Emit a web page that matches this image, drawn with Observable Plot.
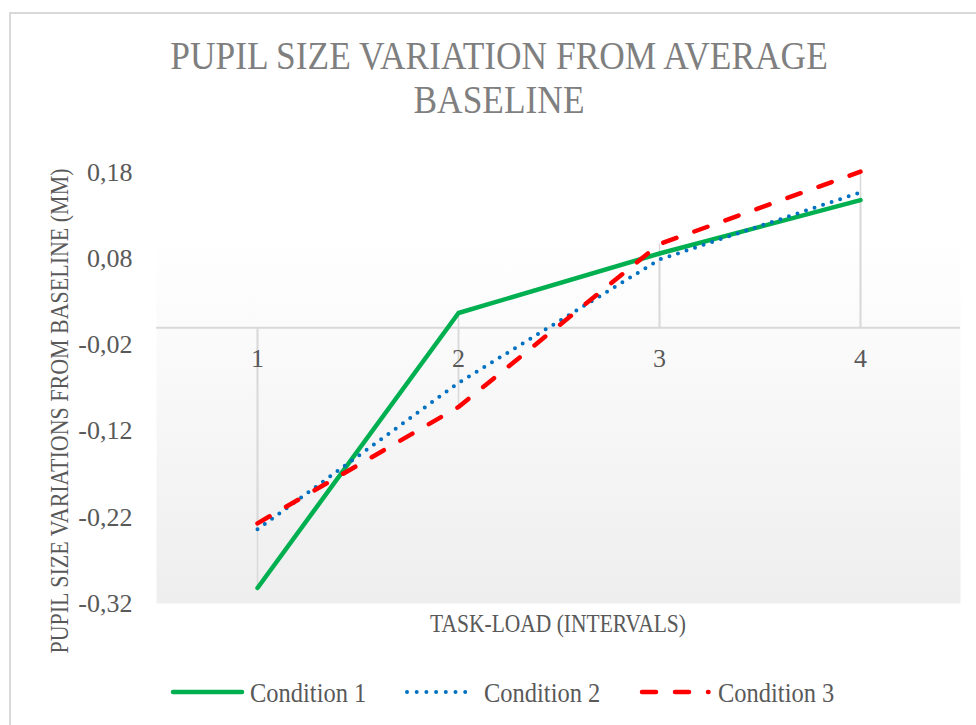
<!DOCTYPE html>
<html>
<head>
<meta charset="utf-8">
<script src="https://cdn.jsdelivr.net/npm/d3@7"></script>
<script src="https://cdn.jsdelivr.net/npm/@observablehq/plot@0.6"></script>
<style>
  html, body { margin: 0; padding: 0; background: #ffffff; }
  #wrap { position: relative; width: 976px; height: 725px; overflow: hidden; font-family: "Liberation Serif", serif; }
  #chart, #overlay { position: absolute; left: 0; top: 0; }
  #border { position: absolute; left: 9px; top: 12px; width: 1100px; height: 900px; border: 2px solid #d9d9d9; box-sizing: border-box; pointer-events: none; }
</style>
</head>
<body>
<div id="wrap">
  <div id="chart"></div>
  <svg id="overlay" width="976" height="725" xmlns="http://www.w3.org/2000/svg"></svg>
  <div id="border"></div>
</div>
<script>
// ---- data ----
const categories = [1, 2, 3, 4];
const xTickLabels = ["1", "2", "3", "4"];
const seriesNames = ["Condition 1", "Condition 2", "Condition 3"];
const condition1 = [-0.302, 0.017, 0.086, 0.148];
const condition2 = [-0.234, -0.064, 0.079, 0.157];
const condition3 = [-0.227, -0.092, 0.097, 0.181];
const yTicks = [-0.32, -0.22, -0.12, -0.02, 0.08, 0.18];
const yTickLabels = ["-0,32", "-0,22", "-0,12", "-0,02", "0,08", "0,18"];
const titleLines = ["PUPIL SIZE VARIATION FROM AVERAGE", "BASELINE"];
const xTitle = "TASK-LOAD (INTERVALS)";
const yTitle = "PUPIL SIZE VARIATIONS FROM BASELINE (MM)";

// ---- build tables ----
const seriesValues = [condition1, condition2, condition3];
const tables = seriesValues.map((vals, s) => categories.map((c, i) => ({x: c, y: vals[i], series: seriesNames[s]})));
const allPoints = tables.flat();

const styles = [
  {stroke: "#00b050", strokeWidth: 4.5, strokeDasharray: null, strokeLinecap: "round"},
  {stroke: "#0070c0", strokeWidth: 4, strokeDasharray: "0 9", strokeLinecap: "round"},
  {stroke: "#ff0000", strokeWidth: 4.5, strokeDasharray: "14 19", strokeLinecap: "round"}
];

const chart = Plot.plot({
  width: 976,
  height: 725,
  marginLeft: 156,
  marginRight: 16,
  marginTop: 172,
  marginBottom: 122,
  style: {fontFamily: "'Liberation Serif', serif", fontSize: "26px", color: "#595959", background: "transparent", overflow: "visible"},
  x: {type: "point", domain: categories, padding: 0.5, axis: null},
  y: {domain: [-0.32, 0.18], axis: null},
  marks: [
    Plot.frame({fill: "url(#plotbg)", stroke: "none"}),
    Plot.ruleY([0], {stroke: "#d9d9d9", strokeWidth: 2}),
    Plot.ruleX(allPoints, {x: "x", y1: 0, y2: "y", stroke: "#d9d9d9", strokeWidth: 1.5}),
    Plot.axisY({
      ticks: yTicks,
      tickFormat: d => yTickLabels[yTicks.indexOf(d)],
      tickSize: 0,
      tickPadding: 24,
      fontSize: 26,
      fill: "#595959",
      label: null
    }),
    Plot.text(categories, {
      x: d => d,
      y: () => 0,
      dy: 31,
      text: d => xTickLabels[categories.indexOf(d)],
      fontSize: 26,
      fill: "#595959"
    }),
    ...tables.map((t, s) => Plot.line(t, {
      x: "x",
      y: "y",
      stroke: styles[s].stroke,
      strokeWidth: styles[s].strokeWidth,
      strokeDasharray: styles[s].strokeDasharray,
      strokeLinecap: styles[s].strokeLinecap,
      strokeLinejoin: "round"
    }))
  ]
});

// gradient for plot area background
const defs = d3.select(chart).insert("defs", ":first-child");
const grad = defs.append("linearGradient").attr("id", "plotbg").attr("x1", 0).attr("y1", 0).attr("x2", 0).attr("y2", 1);
grad.append("stop").attr("offset", "0%").attr("stop-color", "#ffffff");
grad.append("stop").attr("offset", "15%").attr("stop-color", "#ffffff");
grad.append("stop").attr("offset", "100%").attr("stop-color", "#eeeeee");

document.getElementById("chart").appendChild(chart);

// ---- titles and legend ----
const ov = d3.select("#overlay");
const font = "'Liberation Serif', serif";

// main title
const titleBaselines = [69, 113];
titleLines.forEach((t, i) => {
  ov.append("text")
    .attr("transform", `translate(499,${titleBaselines[i]}) scale(1,1.12)`)
    .attr("text-anchor", "middle")
    .attr("font-family", font)
    .attr("font-size", 35.4)
    .attr("fill", "#7f7f7f")
    .text(t);
});

// x-axis title
ov.append("text")
  .attr("transform", "translate(558,632) scale(1,1.18)")
  .attr("text-anchor", "middle")
  .attr("font-family", font)
  .attr("font-size", 21.5)
  .attr("fill", "#595959")
  .text(xTitle);

// y-axis title
ov.append("text")
  .attr("transform", "translate(68,411) rotate(-90) scale(1,1.15)")
  .attr("text-anchor", "middle")
  .attr("font-family", font)
  .attr("font-size", 22)
  .attr("fill", "#595959")
  .text(yTitle);

// legend
const legendItems = [
  {x1: 173, x2: 242, tx: 250},
  {x1: 407, x2: 466, tx: 484, dash: "0 9.7"},
  {x1: 642, x2: 708.5, tx: 718}
];
legendItems.forEach((it, s) => {
  ov.append("line")
    .attr("x1", it.x1).attr("x2", it.x2)
    .attr("y1", 692).attr("y2", 692)
    .attr("stroke", styles[s].stroke)
    .attr("stroke-width", styles[s].strokeWidth)
    .attr("stroke-linecap", "round")
    .attr("stroke-dasharray", it.dash || styles[s].strokeDasharray);
  ov.append("text")
    .attr("transform", `translate(${it.tx},701.5) scale(1,1.08)`)
    .attr("font-family", font)
    .attr("font-size", 24.5)
    .attr("fill", "#595959")
    .text(seriesNames[s]);
});
</script>
</body>
</html>
